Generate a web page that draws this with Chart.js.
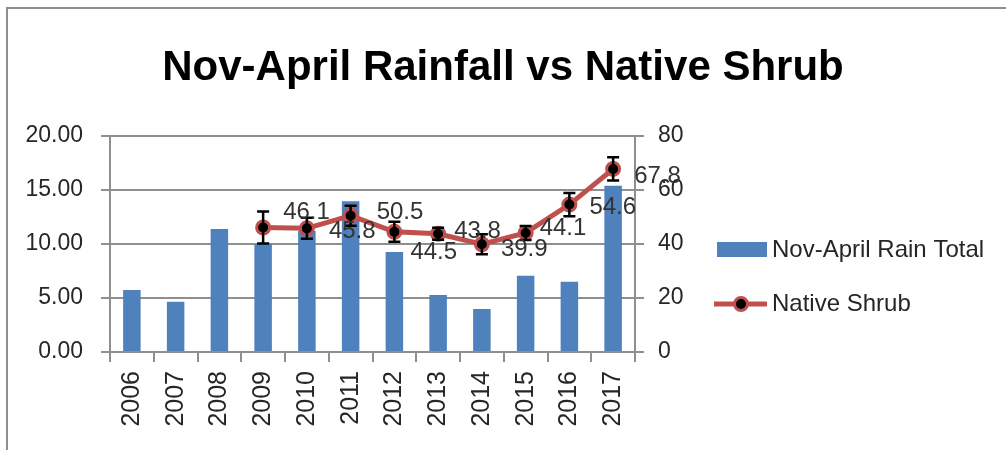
<!DOCTYPE html>
<html>
<head>
<meta charset="utf-8">
<title>Nov-April Rainfall vs Native Shrub</title>
<script src="https://cdn.jsdelivr.net/npm/chart.js@4.4.1/dist/chart.umd.min.js"></script>
<style>
  html, body { margin: 0; padding: 0; background: #fff; }
  #wrap { position: relative; width: 1006px; height: 450px; overflow: hidden; }
  /* chart frame, only the top and left edges fall inside the window */
  #frame {
    position: absolute; left: 6px; top: 7px; width: 1100px; height: 500px;
    border-top: 2px solid #8e8e8e; border-left: 2px solid #8e8e8e;
  }
  #chart { position: absolute; left: 0; top: 0; }
</style>
</head>
<body>
<div id="wrap">
  <div id="frame"></div>
  <canvas id="chart" width="1006" height="450"></canvas>
</div>
<script>
// Rainfall totals (inches) and native shrub cover (%) by year
const years = ['2006', '2007', '2008', '2009', '2010', '2011', '2012', '2013', '2014', '2015', '2016', '2017'];
const rainTotals = [5.74, 4.65, 11.4, 10.0, 11.2, 13.95, 9.27, 5.28, 3.98, 7.06, 6.5, 15.4];
const shrubCover = [null, null, null, 46.1, 45.8, 50.5, 44.5, 43.8, 39.9, 44.1, 54.6, 67.8];
const shrubError = [null, null, null, 5.9, 3.9, 3.7, 3.7, 2.2, 3.7, 2.6, 4.3, 4.3];

const BLUE = '#4f81bd';
const RED = '#c0504d';
const GRID = '#8f8f8f';
const TEXT = '#262626';
const SANS = '"Liberation Sans", Arial, sans-serif';

// nudges for the value labels, which sit to the right of each point
const labelNudge = [null, null, null, [20, -15], [22, 3], [26, -3], [16, 21], [16, -2], [19, 5], [14, -5], [20, 3], [21, 7]];

const errorBars = {
  id: 'errorBars',
  afterDatasetsDraw(chart) {
    const meta = chart.getDatasetMeta(1);
    const y = chart.scales.y1;
    const ctx = chart.ctx;
    ctx.save();
    ctx.strokeStyle = '#000';
    ctx.lineWidth = 2.5;
    meta.data.forEach((pt, i) => {
      const v = shrubCover[i], e = shrubError[i];
      if (v == null || e == null) return;
      const top = y.getPixelForValue(v + e);
      const bot = y.getPixelForValue(v - e);
      ctx.beginPath();
      ctx.moveTo(pt.x, top); ctx.lineTo(pt.x, bot);
      ctx.moveTo(pt.x - 6, top); ctx.lineTo(pt.x + 6, top);
      ctx.moveTo(pt.x - 6, bot); ctx.lineTo(pt.x + 6, bot);
      ctx.stroke();
    });
    ctx.restore();
  }
};

const valueLabels = {
  id: 'valueLabels',
  afterDraw(chart) {
    const meta = chart.getDatasetMeta(1);
    const ctx = chart.ctx;
    ctx.save();
    ctx.font = '24px ' + SANS;
    ctx.fillStyle = '#333';
    ctx.textAlign = 'left';
    ctx.textBaseline = 'middle';
    meta.data.forEach((pt, i) => {
      const v = shrubCover[i];
      if (v == null) return;
      const [dx, dy] = labelNudge[i];
      ctx.fillText(v.toFixed(1), pt.x + dx, pt.y + dy);
    });
    ctx.restore();
  }
};

const sideLegend = {
  id: 'sideLegend',
  afterDraw(chart) {
    const ctx = chart.ctx;
    ctx.save();
    ctx.font = '24px ' + SANS;
    ctx.textAlign = 'left';
    ctx.textBaseline = 'middle';

    ctx.fillStyle = BLUE;
    ctx.fillRect(717, 242, 50, 15);
    ctx.fillStyle = TEXT;
    ctx.fillText(chart.data.datasets[0].label, 772, 250);

    ctx.strokeStyle = RED;
    ctx.lineWidth = 5;
    ctx.beginPath();
    ctx.moveTo(714, 304); ctx.lineTo(767, 304);
    ctx.stroke();
    ctx.beginPath();
    ctx.arc(741, 304, 6.5, 0, Math.PI * 2);
    ctx.fillStyle = '#000';
    ctx.fill();
    ctx.lineWidth = 3;
    ctx.stroke();
    ctx.fillStyle = TEXT;
    ctx.fillText(chart.data.datasets[1].label, 772, 304);
    ctx.restore();
  }
};

Chart.defaults.font.family = SANS;
Chart.defaults.color = TEXT;

new Chart(document.getElementById('chart'), {
  type: 'bar',
  data: {
    labels: years,
    datasets: [
      {
        type: 'bar',
        label: 'Nov-April Rain Total',
        data: rainTotals,
        backgroundColor: BLUE,
        barPercentage: 0.4,
        categoryPercentage: 1,
        yAxisID: 'y',
        order: 2
      },
      {
        type: 'line',
        label: 'Native Shrub',
        data: shrubCover,
        borderColor: RED,
        borderWidth: 5,
        pointRadius: 6.5,
        pointBorderWidth: 3,
        pointBackgroundColor: '#000',
        pointBorderColor: RED,
        spanGaps: false,
        tension: 0,
        yAxisID: 'y1',
        order: 1
      }
    ]
  },
  options: {
    responsive: false,
    animation: false,
    layout: { padding: 0 },
    plugins: {
      legend: { display: false },
      tooltip: { enabled: false },
      title: {
        display: true,
        text: 'Nov-April Rainfall vs Native Shrub',
        color: '#000',
        font: { size: 42, weight: 'bold', lineHeight: 1.2 },
        padding: { top: 43, bottom: 42.6 }
      }
    },
    scales: {
      x: {
        grid: { display: true, drawOnChartArea: false, offset: true, tickLength: 10, color: GRID, lineWidth: 2 },
        border: { color: GRID, width: 2 },
        ticks: { autoSkip: false, minRotation: 90, maxRotation: 90, padding: 9, font: { size: 25 }, color: TEXT },
        afterFit(scale) { scale.height = 98; }
      },
      y: {
        position: 'left',
        min: 0, max: 20,
        grid: { color: GRID, lineWidth: 2, tickLength: 9 },
        border: { color: GRID, width: 2 },
        ticks: { stepSize: 5, padding: 18, font: { size: 23 }, color: TEXT, callback: v => v.toFixed(2) },
        afterFit(scale) { scale.width = 110; }
      },
      y1: {
        position: 'right',
        min: 0, max: 80,
        grid: { drawOnChartArea: false, color: GRID, lineWidth: 2, tickLength: 9 },
        border: { color: GRID, width: 2 },
        ticks: { stepSize: 20, padding: 14, font: { size: 23 }, color: TEXT },
        afterFit(scale) { scale.width = 371; }
      }
    }
  },
  plugins: [errorBars, valueLabels, sideLegend]
});
</script>
</body>
</html>
